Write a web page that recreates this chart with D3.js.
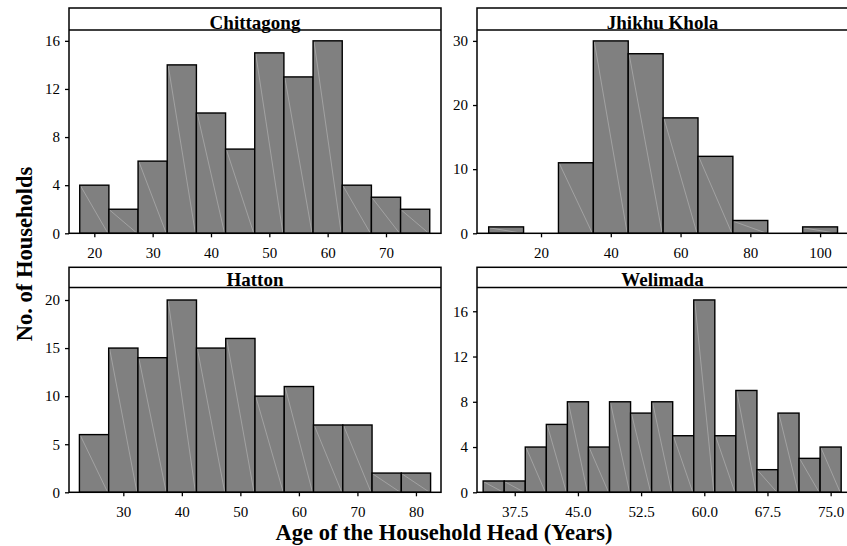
<!DOCTYPE html>
<html><head><meta charset="utf-8">
<script src="https://cdn.jsdelivr.net/npm/d3@7"></script>
<style>
body{margin:0;background:#fff;}
svg{display:block;font-family:"Liberation Serif","Times New Roman",serif;}
</style></head>
<body><svg id="c" width="847" height="546"></svg>
<script>
const categories = ["Chittagong","Jhikhu Khola","Hatton","Welimada"];

const chittagongBins   = [20,25,30,35,40,45,50,55,60,65,70,75];
const chittagongCounts = [4,2,6,14,10,7,15,13,16,4,3,2];
const jhikhuBins       = [10,20,30,40,50,60,70,80,90,100];
const jhikhuCounts     = [1,0,11,30,28,18,12,2,0,1];
const hattonBins       = [25,30,35,40,45,50,55,60,65,70,75,80];
const hattonCounts     = [6,15,14,20,15,16,10,11,7,7,2,2];
const welimadaBins     = [35,37.5,40,42.5,45,47.5,50,52.5,55,57.5,60,62.5,65,67.5,70,72.5,75];
const welimadaCounts   = [1,1,4,6,8,4,8,7,8,5,17,5,9,2,7,3,4];
const binWidths = [5,10,5,2.5];

const chittagongXTicks = [20,30,40,50,60,70];
const jhikhuXTicks     = [20,40,60,80,100];
const hattonXTicks     = [30,40,50,60,70,80];
const welimadaXTicks   = [37.5,45,52.5,60,67.5,75];
const chittagongYTicks = [0,4,8,12,16];
const jhikhuYTicks     = [0,10,20,30];
const hattonYTicks     = [0,5,10,15,20];
const welimadaYTicks   = [0,4,8,12,16];

const xDomains = [[15.66,79.43],[1.65,108.0],[20.72,84.28],[33.02,77.06]];
const yMax = [16.9,31.7,21.3,18.1];

const xTitle = "Age of the Household Head (Years)";
const yTitle = "No. of Households";

const bins = [chittagongBins, jhikhuBins, hattonBins, welimadaBins];
const counts = [chittagongCounts, jhikhuCounts, hattonCounts, welimadaCounts];
const xTicks = [chittagongXTicks, jhikhuXTicks, hattonXTicks, welimadaXTicks];
const yTicks = [chittagongYTicks, jhikhuYTicks, hattonYTicks, welimadaYTicks];
const xFormats = [d3.format("d"), d3.format("d"), d3.format("d"), d3.format(".1f")];

const svg = d3.select("#c");
const cols = [[69,441],[477,848]];
const rows = [{stripTop:8, stripBottom:30, bottom:233.3},{stripTop:267.3, stripBottom:287.5, bottom:492.3}];

categories.forEach((name,i)=>{
  const col = cols[i%2], row = rows[Math.floor(i/2)];
  const x = d3.scaleLinear().domain(xDomains[i]).range(col);
  const y = d3.scaleLinear().domain([0,yMax[i]]).range([row.bottom,row.stripBottom]);
  const g = svg.append("g");
  const w = binWidths[i];
  const data = bins[i].map((b,j)=>({x0:b-w/2,x1:b+w/2,n:counts[i][j]})).filter(d=>d.n>0);

  const bars = g.selectAll("g.bar").data(data).join("g").attr("class","bar");
  bars.append("rect")
    .attr("x",d=>x(d.x0)).attr("width",d=>x(d.x1)-x(d.x0))
    .attr("y",d=>y(d.n)).attr("height",d=>y(0)-y(d.n))
    .attr("fill","#808080").attr("stroke","none");
  bars.append("line")
    .attr("x1",d=>x(d.x0)+1).attr("y1",d=>y(d.n)+1)
    .attr("x2",d=>x(d.x1)-1).attr("y2",d=>y(0))
    .attr("stroke","#b8b8b8").attr("stroke-width",0.6);
  bars.append("rect")
    .attr("x",d=>x(d.x0)).attr("width",d=>x(d.x1)-x(d.x0))
    .attr("y",d=>y(d.n)).attr("height",d=>y(0)-y(d.n))
    .attr("fill","none").attr("stroke","#000").attr("stroke-width",1.4);

  // panel frame
  g.append("rect").attr("x",col[0]).attr("y",row.stripTop)
    .attr("width",col[1]-col[0]).attr("height",row.bottom-row.stripTop)
    .attr("fill","none").attr("stroke","#000").attr("stroke-width",1.5);
  g.append("line").attr("x1",col[0]).attr("x2",col[1])
    .attr("y1",row.stripBottom).attr("y2",row.stripBottom)
    .attr("stroke","#000").attr("stroke-width",1.3);
  g.append("text").attr("x",(col[0]+col[1])/2).attr("y",row.stripBottom-1.2)
    .attr("text-anchor","middle").attr("font-weight","bold").attr("font-size",19)
    .text(name);

  // axes
  const ya = g.append("g").attr("transform",`translate(${col[0]},0)`)
    .call(d3.axisLeft(y).tickValues(yTicks[i]).tickSize(4).tickPadding(5).tickFormat(d3.format("d")));
  const xa = g.append("g").attr("transform",`translate(0,${row.bottom})`)
    .call(d3.axisBottom(x).tickValues(xTicks[i]).tickSize(4).tickFormat(xFormats[i]));
  [ya,xa].forEach(a=>{
    a.select(".domain").remove();
    a.selectAll(".tick line").attr("stroke","#000").attr("stroke-width",1.3);
    a.selectAll(".tick text").attr("fill","#000").attr("font-size",15)
      .attr("font-family",'"Liberation Serif","Times New Roman",serif');
  });
  xa.selectAll(".tick text").attr("y",25).attr("dy",0);
});

svg.append("text").attr("x",444).attr("y",540).attr("text-anchor","middle")
  .attr("font-weight","bold").attr("font-size",22.5).text(xTitle);
svg.append("text").attr("transform","translate(31.5,254) rotate(-90)").attr("text-anchor","middle")
  .attr("font-weight","bold").attr("font-size",22.5).text(yTitle);
</script></body></html>
